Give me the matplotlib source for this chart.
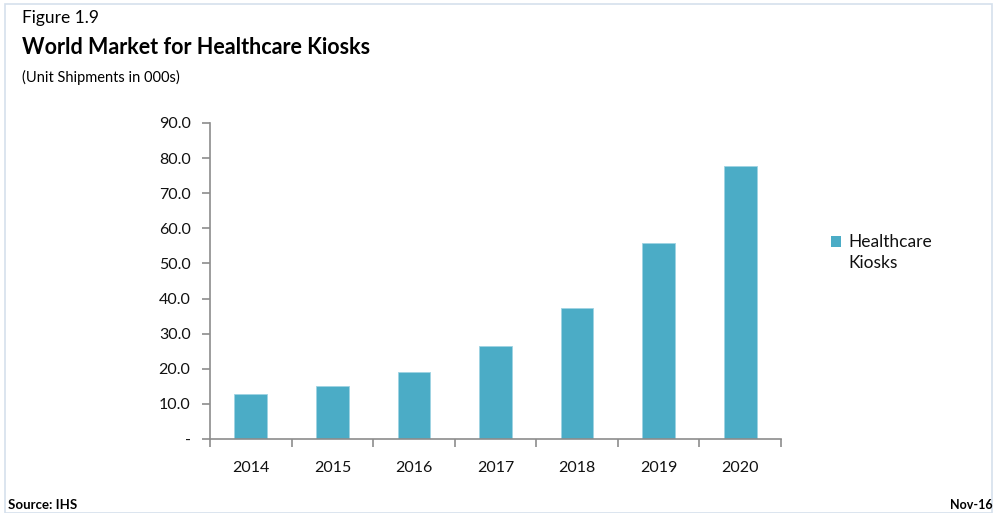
import matplotlib
matplotlib.use("Agg")
import matplotlib.pyplot as plt
from matplotlib.patches import Rectangle
from matplotlib.container import BarContainer
from matplotlib.legend_handler import HandlerPatch, update_from_first_child
from matplotlib.ticker import FixedLocator, FuncFormatter

years = ["2014", "2015", "2016", "2017", "2018", "2019", "2020"]
shipments = [12.8, 15.1, 19.1, 26.5, 37.3, 55.9, 77.8]
y_ticks = [0, 10, 20, 30, 40, 50, 60, 70, 80, 90]
series_name = "Healthcare\nKiosks"

plt.rcParams['font.family'] = ['Lato', 'DejaVu Sans']

W, H = 995, 513
fig = plt.figure(figsize=(W / 100, H / 100), dpi=100)

# frame border
fig.patches.append(Rectangle((5 / W, 0), (W - 8) / W, (H - 4) / H, transform=fig.transFigure,
                             fill=False, edgecolor="#d5e0ec", linewidth=1.2))

ax = fig.add_axes([210 / W, (H - 439) / H, (781 - 210) / W, (439 - 123) / H])
x = list(range(len(years)))
ax.bar(x, shipments, width=0.4, color="#4BACC6", edgecolor="#9fd3e2", linewidth=0.6,
       label=series_name)
ax.set_xlim(-0.5, len(years) - 0.5)
ax.set_ylim(0, 90)
ax.yaxis.set_major_locator(FixedLocator(y_ticks))
ax.yaxis.set_major_formatter(FuncFormatter(lambda v, p: "-" if v == 0 else f"{v:.1f}"))
ax.set_xticks(x)
ax.set_xticklabels(years)
ax.xaxis.set_minor_locator(FixedLocator([i - 0.5 for i in range(len(years) + 1)]))
ax.tick_params(axis="x", which="major", length=0, pad=16, labelsize=11.5, colors="#111111")
ax.tick_params(axis="x", which="minor", length=6, width=1.2, color="#8c8c8c", direction="out")
ax.tick_params(axis="y", length=6, width=1.2, color="#8c8c8c", pad=8, labelsize=11.5,
               labelcolor="#111111")
for s in ["top", "right"]:
    ax.spines[s].set_visible(False)
for s in ["left", "bottom"]:
    ax.spines[s].set_color("#8c8c8c")
    ax.spines[s].set_linewidth(1.2)


def raised_square(legend, orig_handle, xdescent, ydescent, width, height, fontsize):
    return Rectangle((-xdescent, -ydescent + 8.5), width, height)


leg = fig.legend(loc="upper left", bbox_to_anchor=(815 / W, (H - 218) / H), frameon=False,
                 fontsize=12.5, handlelength=0.6, handleheight=0.6, handletextpad=0.45,
                 labelspacing=0.2,
                 handler_map={BarContainer: HandlerPatch(patch_func=raised_square,
                                                         update_func=update_from_first_child)})
for t in leg.get_texts():
    t.set_linespacing(1.45)
    t.set_color("#111111")
for p in leg.get_patches():
    p.set_edgecolor("none")

fig.text(22 / W, (H - 18) / H, "Figure 1.9", fontsize=12.5, va="center", ha="left")
fig.text(22 / W, (H - 48) / H, "World Market for Healthcare Kiosks", fontsize=15.5,
         fontweight="bold", va="center", ha="left")
fig.text(22 / W, (H - 77) / H, "(Unit Shipments in 000s)", fontsize=10.5, va="center", ha="left")
fig.text(8 / W, (H - 505) / H, "Source: IHS", fontsize=9.5, fontweight="bold", va="center", ha="left")
fig.text(993 / W, (H - 505) / H, "Nov-16", fontsize=9, fontweight="bold", va="center", ha="right")

fig.savefig("out.png", dpi=100)
